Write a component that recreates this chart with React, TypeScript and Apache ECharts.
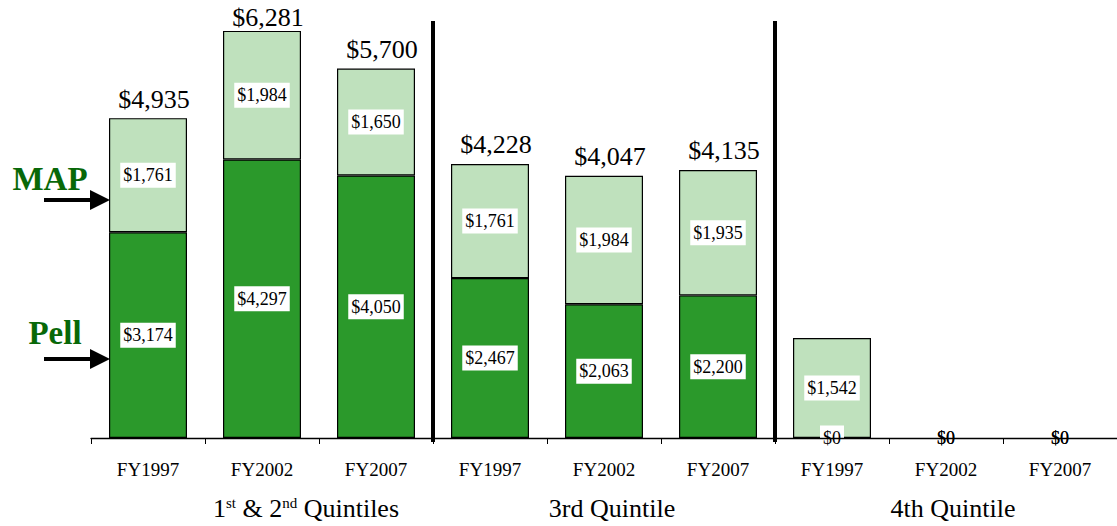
import React, { useEffect, useRef } from "react";
import * as echarts from "echarts";

const categories = ["FY1997", "FY2002", "FY2007", "FY1997", "FY2002", "FY2007", "FY1997", "FY2002", "FY2007"];
const pellValues = [3174, 4297, 4050, 2467, 2063, 2200, 0, 0, 0];
const mapValues = [1761, 1984, 1650, 1761, 1984, 1935, 1542, 0, 0];
const totalValues: (number | null)[] = [4935, 6281, 5700, 4228, 4047, 4135, null, null, null];
const groupLabels = ["1st & 2nd Quintiles", "3rd Quintile", "4th Quintile"];
const groupSize = 3;

const fmt = (v: number) => "$" + v.toLocaleString("en-US");
const FONT = "Liberation Serif";

export default function App() {
  const ref = useRef<HTMLDivElement>(null);
  useEffect(() => {
    document.body.style.margin = "0";
    const chart = echarts.init(ref.current!, undefined, { renderer: "svg" });
    const yMax = 6750;
    const innerLabel = (v: number, bg: boolean) => ({
      show: true,
      position: "inside",
      formatter: () => fmt(v),
      fontFamily: FONT,
      fontSize: 18,
      color: "#000",
      backgroundColor: bg ? "#fff" : "transparent",
      padding: [4, 3, 3, 3],
    });
    const catHasValue = (i: number) => pellValues[i] + mapValues[i] > 0;
    const item = (v: number, color: string, bg: boolean) => ({
      value: v,
      itemStyle: { color, borderColor: "#000", borderWidth: v > 0 ? 1.2 : 0 },
      label: innerLabel(v, bg),
    });
    chart.setOption({
      animation: false,
      grid: { left: 91, right: 0, top: 0.5, bottom: 88, containLabel: false },
      xAxis: {
        type: "category",
        data: categories,
        axisLine: { lineStyle: { color: "#000", width: 1.3 } },
        axisTick: { show: true, inside: false, length: 6, lineStyle: { color: "#000" } },
        axisLabel: { fontFamily: FONT, fontSize: 19, color: "#000", margin: 22 },
        z: 5,
      },
      yAxis: { type: "value", min: 0, max: yMax, show: false, splitLine: { show: false } },
      series: [
        {
          name: "Pell",
          type: "bar",
          stack: "s",
          barWidth: 78,
          data: pellValues.map((v, i) => item(v, "#2B992B", v > 0 || catHasValue(i))),
        },
        {
          name: "MAP",
          type: "bar",
          stack: "s",
          barWidth: 78,
          data: mapValues.map((v) => item(v, "#BFE1BD", v > 0)),
        },
        {
          name: "Total",
          type: "bar",
          stack: "s",
          barWidth: 78,
          itemStyle: { color: "transparent", borderWidth: 0 },
          label: {
            show: true,
            position: "top",
            distance: 6,
            offset: [6, 0],
            fontFamily: FONT,
            fontSize: 26,
            color: "#000",
            formatter: (p: any) => fmt(totalValues[p.dataIndex] as number),
          },
          data: totalValues.map((t) =>
            t == null ? "-" : { value: 0, label: { distance: t > yMax * 0.9 ? 0 : 6 } }
          ),
        },
      ],
    });

    const px = (i: number) => chart.convertToPixel({ xAxisIndex: 0 }, i) as number;
    const step = px(1) - px(0);
    const axisY = chart.convertToPixel({ yAxisIndex: 0 }, 0) as number;
    const graphics: any[] = [];
    for (let g = 1; g < groupLabels.length; g++) {
      const x = px(g * groupSize) - step / 2;
      graphics.push({
        type: "line",
        shape: { x1: x, y1: 21, x2: x, y2: axisY + 4 },
        style: { stroke: "#000", lineWidth: 4 },
        z: 10,
      });
    }
    const groupOffsets = [44, 8, 7];
    groupLabels.forEach((lab, g) => {
      const cx = (px(g * groupSize) + px(g * groupSize + groupSize - 1)) / 2 + groupOffsets[g];
      const rich: any = {
        n: { fontFamily: FONT, fontSize: 26, fill: "#000" },
        s: { fontFamily: FONT, fontSize: 15, fill: "#000", verticalAlign: "top", padding: [0, 0, 10, 0] },
      };
      const text = g === 0 ? "{n|1}{s|st}{n| & 2}{s|nd}{n| Quintiles}" : "{n|" + lab + "}";
      graphics.push({
        type: "text",
        x: cx,
        y: 508,
        style: { text, rich, align: "center", verticalAlign: "middle", fontFamily: FONT, fontSize: 26, fill: "#000" },
      });
    });
    const sideLabels = [
      { text: "MAP", x: 50, y: 179, ay: 200 },
      { text: "Pell", x: 55, y: 333, ay: 359 },
    ];
    const barLeft = px(0) - 39;
    sideLabels.forEach((s) => {
      graphics.push({
        type: "text",
        x: s.x,
        y: s.y,
        style: {
          text: s.text,
          fontFamily: FONT,
          fontSize: 33,
          fontWeight: "bold",
          fill: "#086808",
          align: "center",
          verticalAlign: "middle",
        },
      });
      graphics.push({
        type: "line",
        shape: { x1: 44, y1: s.ay, x2: barLeft - 16, y2: s.ay },
        style: { stroke: "#000", lineWidth: 4 },
      });
      graphics.push({
        type: "polygon",
        shape: { points: [[barLeft - 19, s.ay - 10], [barLeft + 1, s.ay], [barLeft - 19, s.ay + 10]] },
        style: { fill: "#000" },
      });
    });
    chart.setOption({ graphic: graphics });
    return () => chart.dispose();
  }, []);
  return <div ref={ref} style={{ width: 1117, height: 526 }} />;
}
